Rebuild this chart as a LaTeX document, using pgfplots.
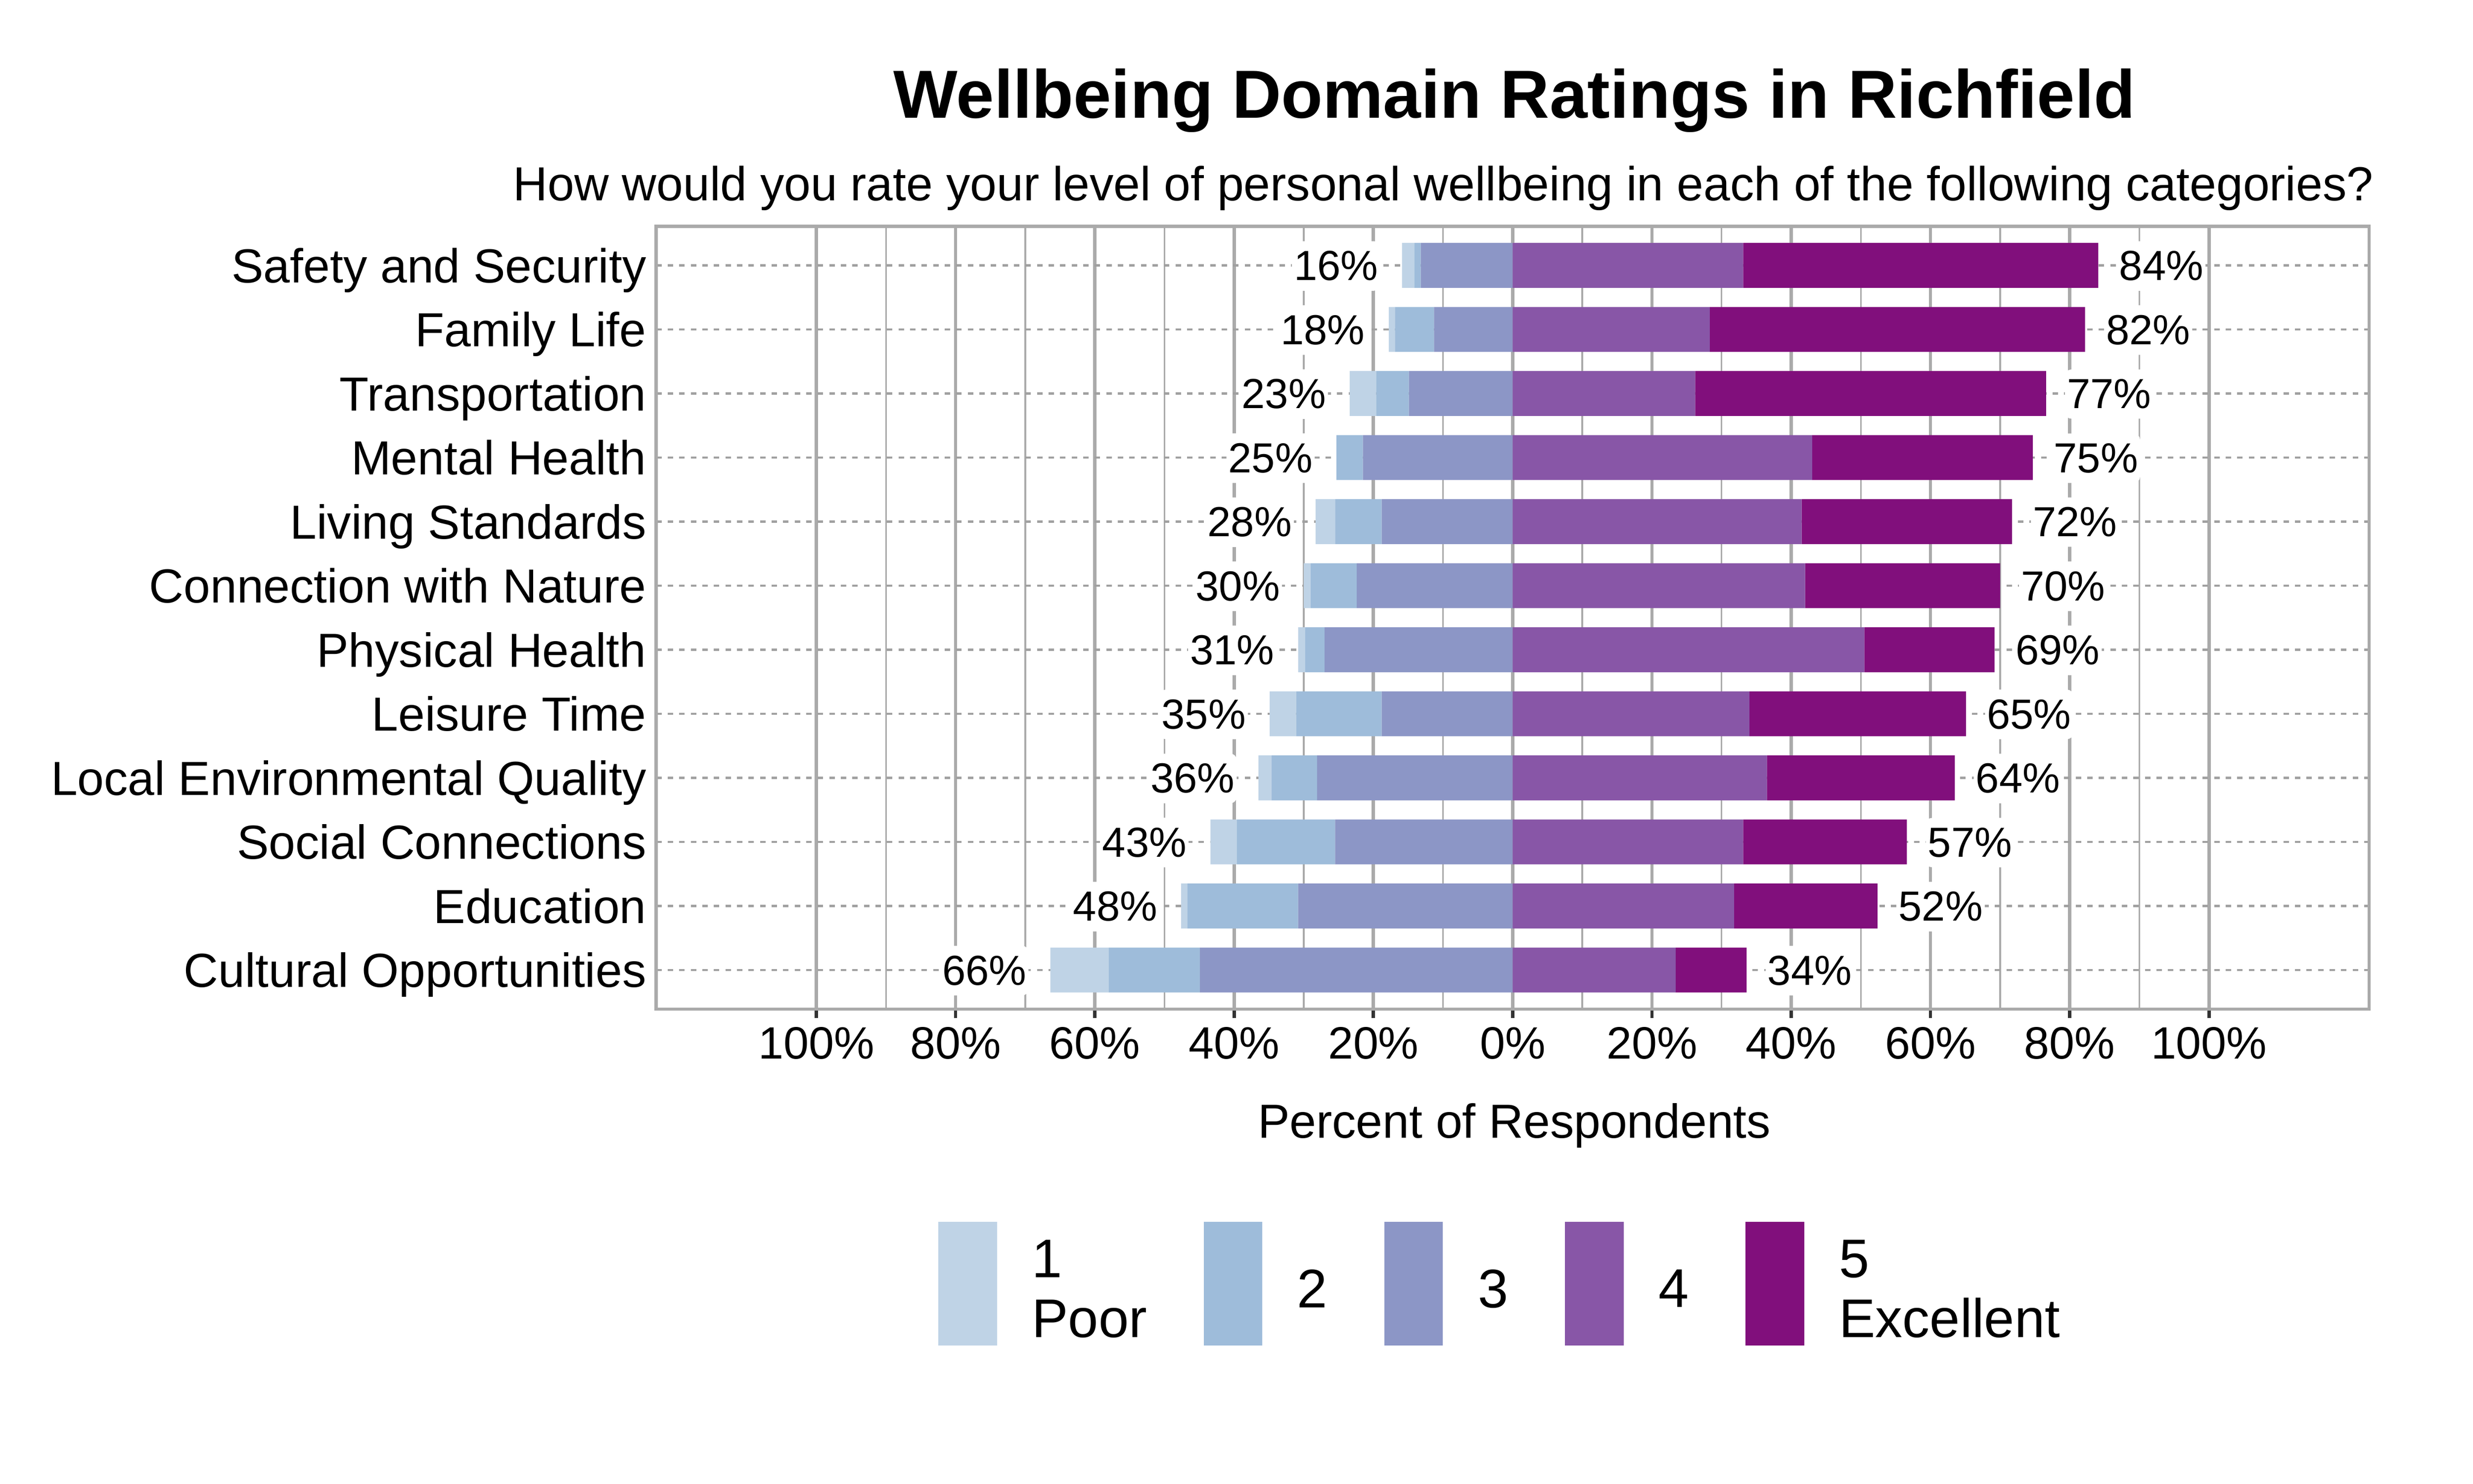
\documentclass[border=0pt]{standalone}
\usepackage{pgfplots}
\pgfplotsset{compat=1.18}
\usepackage{pgfplotstable}
\usepackage{fontspec}
\setmainfont{Liberation Sans}

\definecolor{r1}{HTML}{BFD3E6}
\definecolor{r2}{HTML}{9EBCDA}
\definecolor{r3}{HTML}{8C96C6}
\definecolor{r4}{HTML}{8856A7}
\definecolor{r5}{HTML}{810F7C}
\definecolor{gridc}{HTML}{AAAAAA}
\definecolor{dashc}{HTML}{A0A0A0}
\definecolor{tickc}{HTML}{333333}
\definecolor{zeroc}{HTML}{666666}

% y = row (11 = top), r1..r5 = share of each rating, lt/rt = rounded totals
\pgfplotstableread{
y  r1  r2   r3   r4   r5   lt rt
11 1.8 0.9  13.2 33.1 51.0 16 84
10 0.9 5.6  11.3 28.3 53.9 18 82
9  3.8 4.7  14.9 26.2 50.4 23 77
8  0.0 3.8  21.5 43.0 31.7 25 75
7  2.8 6.7  18.8 41.5 30.2 28 72
6  1.0 6.6  22.4 42.0 28.0 30 70
5  1.0 2.8  27.0 50.5 18.7 31 69
4  3.8 12.3 18.8 34.0 31.1 35 65
3  1.9 6.5  28.1 36.5 27.0 36 64
2  3.8 14.1 25.5 33.1 23.5 43 57
1  0.9 15.9 30.8 31.8 20.6 48 52
0  8.4 13.1 44.9 23.4 10.2 66 34
}\ratings

\pgfplotsset{
  base/.style={
    at={(159.2bp,-244.8bp)}, anchor=south west,
    width=415.6bp, height=189.9bp, scale only axis,
    xmin=-123, xmax=123, ymin=-0.61, ymax=11.61,
  },
  /pgf/number format/assume math mode=true,
}
\tikzset{
  pct/.style={
    font=\fontsize{10.2bp}{12bp}\selectfont,
    fill=white, rounded corners=1.5bp, inner xsep=0.5bp, inner ysep=2.4bp,
  },
}

\begin{document}
\begin{tikzpicture}
\fill[white] (0,0) rectangle (600bp,-360bp);
\useasboundingbox (0,0) rectangle (600bp,-360bp);

\node[anchor=base, font=\fontsize{16.5bp}{19.8bp}\selectfont\bfseries]
  at (367.4bp,-28.6bp) {Wellbeing Domain Ratings in Richfield};
\node[anchor=base, font=\fontsize{11.6bp}{14bp}\selectfont]
  at (350.2bp,-48.7bp) {How would you rate your level of personal wellbeing in each of the following categories?};
\node[anchor=base, font=\fontsize{11.6bp}{14bp}\selectfont]
  at (367.4bp,-276bp) {Percent of Respondents};

% left half: ratings 1-3, axis and grid
\begin{axis}[base,
  xbar stacked, bar width=0.7,
  axis line style={color=gridc, line width=0.8bp},
  xtick={-100,-80,...,100},
  xticklabels={100\%,80\%,60\%,40\%,20\%,0\%,20\%,40\%,60\%,80\%,100\%},
  minor xtick={-90,-70,...,90},
  extra x ticks={0}, extra x tick labels={},
  extra x tick style={major grid style={color=zeroc, line width=0.6bp}, major tick length=0pt},
  ytick={0,...,11},
  yticklabels={Cultural Opportunities,Education,Social Connections,Local Environmental Quality,Leisure Time,Physical Health,Connection with Nature,Living Standards,Mental Health,Transportation,Family Life,Safety and Security},
  xmajorgrids, xminorgrids, ymajorgrids,
  major x grid style={color=gridc, line width=0.8bp},
  minor x grid style={color=gridc, line width=0.4bp},
  major y grid style={color=dashc, line width=0.5bp, dash pattern=on 1.3bp off 1.5bp},
  tick align=outside, xtick pos=left, ytick pos=left,
  major tick length=2.2bp, minor tick length=0pt,
  xtick style={color=tickc, line width=0.8bp},
  ytick style={draw=none},
  xticklabel style={font=\fontsize{11bp}{13bp}\selectfont, anchor=base, inner sep=0pt, yshift=-9.9bp},
  yticklabel style={font=\fontsize{11.6bp}{14bp}\selectfont, anchor=base east, inner sep=0pt, yshift=-4.15bp},
]
\addplot[fill=r3, draw=none] table[x expr=-\thisrow{r3}, y=y] {\ratings};
\addplot[fill=r2, draw=none] table[x expr=-\thisrow{r2}, y=y] {\ratings};
\addplot[fill=r1, draw=none] table[x expr=-\thisrow{r1}, y=y] {\ratings};
\end{axis}

% right half: ratings 4-5
\begin{axis}[base, hide axis, xbar stacked, bar width=0.7]
\addplot[fill=r4, draw=none] table[x=r4, y=y] {\ratings};
\addplot[fill=r5, draw=none] table[x=r5, y=y] {\ratings};
\end{axis}

% totals at the bar ends
\begin{axis}[base, hide axis, xbar, bar width=0.7]
\addplot[draw=none, fill=none, point meta=explicit,
  nodes near coords={\pgfmathprintnumber{\pgfplotspointmeta}\%},
  every node near coord/.append style={pct, anchor=base east, xshift=-5.1bp, yshift=-3.65bp}]
  table[x expr=-\thisrow{r1}-\thisrow{r2}-\thisrow{r3}, y=y, meta=lt] {\ratings};
\end{axis}
\begin{axis}[base, hide axis, xbar, bar width=0.7]
\addplot[draw=none, fill=none, point meta=explicit,
  nodes near coords={\pgfmathprintnumber{\pgfplotspointmeta}\%},
  every node near coord/.append style={pct, anchor=base west, xshift=4.4bp, yshift=-3.65bp}]
  table[x expr=\thisrow{r4}+\thisrow{r5}, y=y, meta=rt] {\ratings};
\end{axis}

% legend
\begin{axis}[base, hide axis, xmin=0, xmax=1, ymin=0, ymax=1,
  legend columns=5,
  legend style={at={(0.1648,-0.3547)}, anchor=west, draw=none, fill=none,
    inner sep=0pt, outer sep=0pt, column sep=0pt,
    font=\fontsize{13.2bp}{14.5bp}\selectfont,
    cells={anchor=west, align=left, inner sep=0pt},
    /tikz/every even column/.append style={column sep=11.8bp}},
]
\addlegendimage{legend image code/.code={\fill[r1] (0bp,-12.9bp) rectangle (13.8bp,16.7bp); \path (20.3bp,0bp);}}
\addlegendimage{legend image code/.code={\fill[r2] (0bp,-12.9bp) rectangle (13.8bp,16.7bp); \path (20.3bp,0bp);}}
\addlegendimage{legend image code/.code={\fill[r3] (0bp,-12.9bp) rectangle (13.8bp,16.7bp); \path (20.3bp,0bp);}}
\addlegendimage{legend image code/.code={\fill[r4] (0bp,-12.9bp) rectangle (13.8bp,16.7bp); \path (20.3bp,0bp);}}
\addlegendimage{legend image code/.code={\fill[r5] (0bp,-12.9bp) rectangle (13.8bp,16.7bp); \path (20.3bp,0bp);}}
\legend{{1\\Poor},2,3,4,{5\\Excellent}}
\end{axis}
\end{tikzpicture}
\end{document}
